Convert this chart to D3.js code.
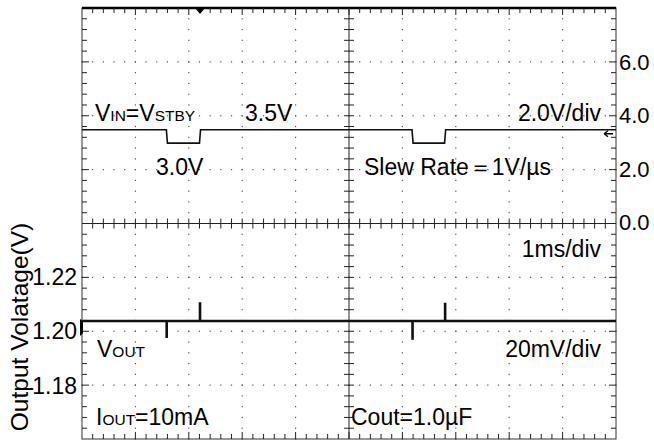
<!DOCTYPE html>
<html><head><meta charset="utf-8">
<script src="https://cdn.jsdelivr.net/npm/d3@7"></script>
<style>body{margin:0;background:#fff}svg{display:block;font-family:"Liberation Sans",Arial,sans-serif}</style>
</head><body><svg id="c" width="654" height="441"></svg>
<script>
// ---- data (time in ms, 1ms/div) ----
const vinTime   = [0, 1.58, 1.60, 2.20, 2.22, 6.18, 6.20, 6.79, 6.81, 10];
const vinValues = [3.45, 3.45, 2.95, 2.95, 3.45, 3.45, 2.95, 2.95, 3.45, 3.45];
const voutTime   = [0, 1.586, 1.586, 1.586, 2.21, 2.21, 2.21, 6.19, 6.19, 6.19, 6.80, 6.80, 6.80, 10];
const voutValues = [1.2035, 1.2035, 1.1972, 1.2035, 1.2035, 1.2104, 1.2035, 1.2035, 1.1966, 1.2035, 1.2035, 1.2102, 1.2035, 1.2035];
const vinTicks = [0, 2, 4, 6];
const voutTicks = [1.18, 1.20, 1.22];

const svg = d3.select("#c");
const L = 82, R = 616, T = 8, B = 439;
const x = d3.scaleLinear().domain([0, 10]).range([L, R]);
const yTop = d3.scaleLinear().domain([0, 8]).range([222, T]);
const yBot = d3.scaleLinear().domain([1.16, 1.24]).range([B, 222]);
const yDiv = d3.scaleLinear().domain([0, 8]).range([B, T]);
const xc = x(5), yc = yDiv(4);

// dotted grid
const g = svg.append("g");
const sub = d3.range(0, 10.001, 0.2);
const subY = d3.range(0, 8.001, 0.2);
[1,2,3,4,6,7,8,9].forEach(d => {
  g.selectAll(null).data(subY).join("rect")
    .attr("x", x(d) - 0.6).attr("y", v => yDiv(v) - 0.6).attr("width", 1.2).attr("height", 1.2).attr("fill", "#555");
});
[1,2,3,5,6,7].forEach(d => {
  g.selectAll(null).data(sub).join("rect")
    .attr("x", v => x(v) - 0.6).attr("y", yDiv(d) - 0.6).attr("width", 1.2).attr("height", 1.2).attr("fill", "#555");
});

// frame
g.append("rect").attr("x", L).attr("y", T).attr("width", R - L).attr("height", B - T)
  .attr("fill", "none").attr("stroke", "#333").attr("stroke-width", 1);
g.append("line").attr("x1", L).attr("x2", R).attr("y1", T).attr("y2", T).attr("stroke", "#000").attr("stroke-width", 2.5);
g.append("line").attr("x1", L).attr("x2", R).attr("y1", yc).attr("y2", yc).attr("stroke", "#222");
g.append("line").attr("x1", xc).attr("x2", xc).attr("y1", T).attr("y2", B).attr("stroke", "#222");

// ticks
const tk = g.append("g").attr("stroke", "#222").attr("stroke-width", 1);
sub.slice(1, -1).forEach(v => {
  const major = Math.abs(v - Math.round(v)) < 1e-6;
  const len = major ? 7 : 5;
  tk.append("line").attr("x1", x(v)).attr("x2", x(v)).attr("y1", T).attr("y2", T + len);
  tk.append("line").attr("x1", x(v)).attr("x2", x(v)).attr("y1", B).attr("y2", B - len);
  tk.append("line").attr("x1", x(v)).attr("x2", x(v)).attr("y1", yc - 5).attr("y2", yc + 5);
});
subY.slice(1, -1).forEach(v => {
  const major = Math.abs(v - Math.round(v)) < 1e-6;
  const len = major ? 7 : 5;
  tk.append("line").attr("y1", yDiv(v)).attr("y2", yDiv(v)).attr("x1", L).attr("x2", L + len);
  tk.append("line").attr("y1", yDiv(v)).attr("y2", yDiv(v)).attr("x1", R).attr("x2", R - len);
  tk.append("line").attr("y1", yDiv(v)).attr("y2", yDiv(v)).attr("x1", xc - 5).attr("x2", xc + 5);
});

// axes labels
const ar = svg.append("g").attr("transform", `translate(${R},0)`)
  .call(d3.axisRight(yTop).tickValues(vinTicks).tickFormat(d3.format(".1f")).tickSize(0).tickPadding(3));
ar.select(".domain").remove();
ar.selectAll("text").attr("font-size", 22).attr("font-family", "Liberation Sans, Arial, sans-serif").attr("fill", "#000").attr("dy", "0.36em");
const al = svg.append("g").attr("transform", `translate(${L},0)`)
  .call(d3.axisLeft(yBot).tickValues(voutTicks).tickFormat(d3.format(".2f")).tickSize(0).tickPadding(5));
al.select(".domain").remove();
al.selectAll("text").attr("font-size", 23).attr("font-family", "Liberation Sans, Arial, sans-serif").attr("fill", "#000").attr("dy", "0.36em");

svg.append("text").attr("transform", "translate(28,327) rotate(-90)").attr("text-anchor", "middle")
  .attr("font-size", 24.5).text("Output Volatage(V)");

// traces
const lineTop = d3.line().x((d, i) => x(vinTime[i])).y(d => yTop(d));
svg.append("path").attr("d", lineTop(vinValues)).attr("fill", "none").attr("stroke", "#111").attr("stroke-width", 1.6);
const lineBot = d3.line().x((d, i) => x(voutTime[i])).y(d => yBot(d));
svg.append("path").attr("d", lineBot(voutValues)).attr("fill", "none").attr("stroke", "#111").attr("stroke-width", 2.6);

// markers
svg.append("path").attr("d", `M${x(2.21)-5},${T} L${x(2.21)+5},${T} L${x(2.21)},${T+6}Z`).attr("fill", "#000");
svg.append("path").attr("d", `M${R-12},${yTop(3.3)} L${R-3},${yTop(3.3)} M${R-12},${yTop(3.3)} l4,-3 M${R-12},${yTop(3.3)} l4,3`)
  .attr("stroke", "#000").attr("stroke-width", 1.3).attr("fill", "none");
svg.append("path").attr("d", `M${L-2},${yBot(1.2035)-2} L${L+1},${yBot(1.2035)} L${L+1},${yBot(1.199)} L${L-2},${yBot(1.198)} Z`).attr("fill", "#000");

// annotations
const fs = 23, small = 15.5;
function lab(tx, ty, parts, anchor) {
  const t = svg.append("text").attr("x", tx).attr("y", ty).attr("font-size", fs).attr("text-anchor", anchor || "start");
  parts.forEach(p => t.append("tspan").attr("font-size", p[1] ? small : fs).text(p[0]));
}
lab(95, 121, [["V"], ["IN", 1], ["=V"], ["STBY", 1]]);
lab(245, 121, [["3.5V"]]);
lab(156, 175, [["3.0V"]]);
lab(601, 121, [["2.0V/div"]], "end");
lab(364, 175, [["Slew Rate＝1V/µs"]]);
lab(601, 257, [["1ms/div"]], "end");
lab(97, 357, [["V"], ["OUT", 1]]);
lab(601, 357, [["20mV/div"]], "end");
lab(96, 425, [["I"], ["OUT", 1], ["=10mA"]]);
lab(351, 425, [["Cout=1.0µF"]]);
</script></body></html>
